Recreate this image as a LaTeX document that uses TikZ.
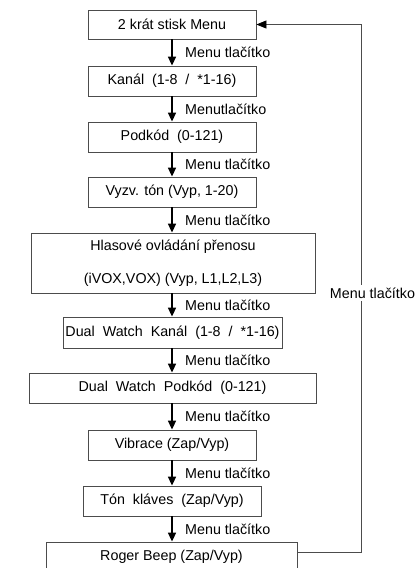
\documentclass[tikz,border=0pt]{standalone}
\usepackage{fontspec}
\setmainfont{Liberation Sans}
\usetikzlibrary{arrows.meta}

\begin{document}
\begin{tikzpicture}[x=1pt,y=-1pt,
    every node/.style={font=\fontsize{14.3}{17}\selectfont},
    menubox/.style={draw=black!70, line width=0.8pt, minimum height=30pt, inner sep=0pt, align=center},
    nextarrow/.style={line width=1.6pt, -{Triangle[length=9pt,width=8pt]}},
    keylabel/.style={anchor=west, inner sep=0pt},
    backline/.style={draw=black!70, line width=0.8pt, -{Triangle[length=10pt,width=8pt,color=black]}}]
    \useasboundingbox (0,0) rectangle (415,568);
    \clip (0,0) rectangle (415,568);

    % Drawing menu boxes
    \node [menubox, minimum width=168pt, minimum height=29pt] (start) at (172,24.5) {2 krát stisk Menu};%
    \node [menubox, minimum width=168pt] (kanal) at (172,81) {Kanál\ \ (1-8\ \ /\ \ *1-16)};%
    \node [menubox, minimum width=168pt] (podkod) at (172,137) {Podkód\ \ (0-121)};%
    \node [menubox, minimum width=168pt] (vyzva) at (172,192) {Vyzv. tón (Vyp, 1-20)};%
    \node [menubox, minimum width=284pt, minimum height=60pt] (vox) at (173,263)
        {Hlasové ovládání přenosu\\[16pt](iVOX,VOX) (Vyp, L1,L2,L3)};%
    \node [menubox, minimum width=219pt, minimum height=31pt] (dwkanal) at (172.5,332.5)
        {Dual\ \ Watch\ \ Kanál\ \ (1-8\ \ /\ \ *1-16)};%
    \node [menubox, minimum width=287pt] (dwpodkod) at (172.5,388) {Dual\ \ Watch\ \ Podkód\ \ (0-121)};%
    \node [menubox, minimum width=168pt] (vibrace) at (172,445) {Vibrace (Zap/Vyp)};%
    \node [menubox, minimum width=178pt] (klavesy) at (172,501) {Tón\ \ kláves\ \ (Zap/Vyp)};%
    \node [menubox, minimum width=251pt] (roger) at (171.5,557) {Roger Beep (Zap/Vyp)};%

    % Drawing arrows between boxes
    \draw [nextarrow] (start) -- (kanal);%
    \draw [nextarrow] (kanal) -- (podkod);%
    \draw [nextarrow] (podkod) -- (vyzva);%
    \draw [nextarrow] (vyzva) -- (vyzva |- vox.north);%
    \draw [nextarrow] (vyzva |- vox.south) -- (vyzva |- dwkanal.north);%
    \draw [nextarrow] (vyzva |- dwkanal.south) -- (vyzva |- dwpodkod.north);%
    \draw [nextarrow] (vyzva |- dwpodkod.south) -- (vibrace);%
    \draw [nextarrow] (vibrace) -- (klavesy);%
    \draw [nextarrow] (klavesy) -- (vyzva |- roger.north);%

    % Labels of arrows
    \node [keylabel] (k1) at (185,52.5) {Menu tlačítko};%
    \node [keylabel] (k2) at (185,109) {Menutlačítko};%
    \node [keylabel] (k3) at (185,164.5) {Menu tlačítko};%
    \node [keylabel] (k4) at (185,220) {Menu tlačítko};%
    \node [keylabel] (k5) at (185,305) {Menu tlačítko};%
    \node [keylabel] (k6) at (185,360.5) {Menu tlačítko};%
    \node [keylabel] (k7) at (185,416.5) {Menu tlačítko};%
    \node [keylabel] (k8) at (185,473) {Menu tlačítko};%
    \node [keylabel] (k9) at (185,529) {Menu tlačítko};%

    % Drawing line back to the start
    \coordinate (corner) at (361,552);
    \draw [backline] ([yshift=5pt]roger.east) -- (corner) |- (start.east);%
    \node [fill=white, inner xsep=1pt, inner ysep=3pt] (back) at (372.5,293) {Menu tlačítko};%
\end{tikzpicture}
\end{document}
